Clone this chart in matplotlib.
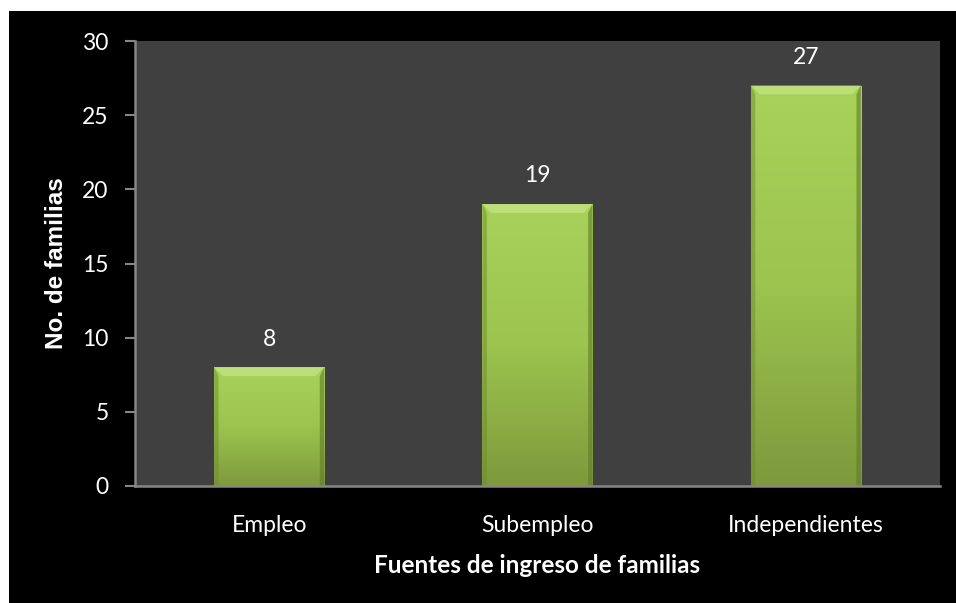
import numpy as np
import matplotlib
matplotlib.use("Agg")
import matplotlib.pyplot as plt
from matplotlib.patches import Rectangle, Polygon
from matplotlib.colors import LinearSegmentedColormap

categories = ["Empleo", "Subempleo", "Independientes"]
values = [8, 19, 27]
yticks = [0, 5, 10, 15, 20, 25, 30]
xlabel = "Fuentes de ingreso de familias"
ylabel = "No. de familias"

W, H = 956, 603
fig = plt.figure(figsize=(W / 100, H / 100), dpi=100, facecolor="white")
# black panel with white margin on top/left
fig.patches.append(Rectangle((9 / W, 0), 1 - 9 / W, 1 - 11 / H,
                             transform=fig.transFigure, facecolor="black",
                             edgecolor="none", zorder=-10))

ax = fig.add_axes([135 / W, 1 - 486 / H, (940 - 135) / W, (486 - 41) / H])
ax.set_zorder(1)
ax.set_facecolor("#404040")

tick_font = "Lato"
fs = 16.5
bw = 0.41
grad = LinearSegmentedColormap.from_list("g", ["#7e9a3c", "#9cc44f", "#a8d25a"])
gimg = np.linspace(0, 1, 256).reshape(-1, 1)

bars = ax.bar(range(len(categories)), values, width=bw, color="#9ac24e",
              edgecolor="none", zorder=2)
for b in bars:
    x0, w, h = b.get_x(), b.get_width(), b.get_height()
    im = ax.imshow(gimg, extent=[x0, x0 + w, 0, h], origin="lower", cmap=grad,
                   aspect="auto", zorder=3)
    im.set_clip_path(b)
    # bevel: top lighter, sides darker
    dx = w * 0.08
    dy = dx * (805 / 3) / (445 / 30)
    ax.add_patch(Polygon([[x0, h], [x0 + w, h], [x0 + w - dx, h - dy], [x0 + dx, h - dy]],
                         closed=True, facecolor="#c4e484", edgecolor="none", alpha=0.75, zorder=4))
    ax.add_patch(Polygon([[x0, 0], [x0, h], [x0 + dx * 0.5, h - dy], [x0 + dx * 0.5, 0]],
                         closed=True, facecolor="#6f8a32", edgecolor="none", alpha=0.5, zorder=4))
    ax.add_patch(Polygon([[x0 + w, 0], [x0 + w, h], [x0 + w - dx * 0.5, h - dy], [x0 + w - dx * 0.5, 0]],
                         closed=True, facecolor="#5f7a28", edgecolor="none", alpha=0.6, zorder=4))
    ax.text(x0 + w / 2, h + 1.9, str(int(h)), ha="center", va="center",
            color="white", fontsize=fs, family=tick_font, zorder=5)

ax.set_xlim(-0.5, len(categories) - 0.5)
ax.set_ylim(0, 30)

for s in ["top", "right"]:
    ax.spines[s].set_visible(False)
for s in ["left", "bottom"]:
    ax.spines[s].set_color("#868686")
    ax.spines[s].set_linewidth(1.8)
    ax.spines[s].set_zorder(6)

ax.set_yticks(yticks)
ax.set_yticklabels([str(t) for t in yticks], color="white", fontsize=fs, family=tick_font)
ax.tick_params(axis="y", colors="#868686", length=7, width=1.5, labelcolor="white", pad=12)
ax.set_xticks(range(len(categories)))
ax.set_xticklabels(categories, color="white", fontsize=fs, family=tick_font)
ax.tick_params(axis="x", length=0, pad=21, labelcolor="white")

ax.set_xlabel(xlabel, color="white", fontsize=17.5, family=tick_font, fontweight="bold", labelpad=13)
ax.set_ylabel(ylabel, color="white", fontsize=17.5, family="Liberation Sans", fontweight="bold", labelpad=10)

fig.savefig("out.png", dpi=100, facecolor="white")
